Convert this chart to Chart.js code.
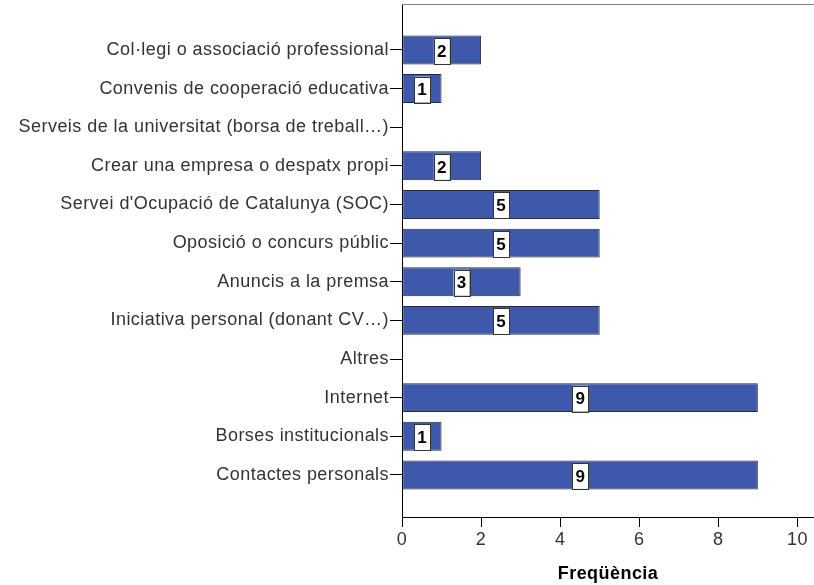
<!DOCTYPE html>
<html lang="ca">
<head>
    <meta charset="UTF-8">
    <title>Freqüència</title>
    <style>
        html, body {
            margin: 0;
            padding: 0;
            background-color: #ffffff;
        }
        .chart-box {
            width: 814px;
            height: 585px;
        }
    </style>
    <script src="https://cdn.jsdelivr.net/npm/chart.js"></script>
</head>
<body>

<div class="chart-box">
    <canvas id="freq-chart" width="814" height="585"></canvas>
</div>

<script>
// Categories, top to bottom
const categories = [
    'Col·legi o associació professional',
    'Convenis de cooperació educativa',
    'Serveis de la universitat (borsa de treball…)',
    'Crear una empresa o despatx propi',
    "Servei d'Ocupació de Catalunya (SOC)",
    'Oposició o concurs públic',
    'Anuncis a la premsa',
    'Iniciativa personal (donant CV…)',
    'Altres',
    'Internet',
    'Borses institucionals',
    'Contactes personals'
];
const frequencies = [2, 1, 0, 2, 5, 5, 3, 5, 0, 9, 1, 9];
const xTicks = [0, 2, 4, 6, 8, 10];

const points = categories.map((c, i) => ({ x: frequencies[i], y: i }));

// slightly wider letter spacing, like the original rendering
const spacing = {
    id: 'spacing',
    beforeDraw(chart) {
        chart.ctx.letterSpacing = '0.45px';
    }
};

// White boxes with the count, drawn over each bar
const valueBoxes = {
    id: 'valueBoxes',
    afterDatasetsDraw(chart) {
        const ctx = chart.ctx;
        const meta = chart.getDatasetMeta(0);
        ctx.save();
        ctx.letterSpacing = '0px';
        ctx.font = 'bold 17px "Liberation Sans", Arial, sans-serif';
        ctx.textAlign = 'center';
        ctx.textBaseline = 'middle';
        meta.data.forEach((bar, i) => {
            if (!frequencies[i]) return;
            const cx = (bar.x + bar.base) / 2;
            const cy = bar.y + 1;
            const w = 16, h = 26;
            ctx.fillStyle = '#ffffff';
            ctx.fillRect(cx - w / 2, cy - h / 2, w, h);
            ctx.strokeStyle = '#333333';
            ctx.lineWidth = 1;
            ctx.strokeRect(Math.round(cx - w / 2) + 0.5, Math.round(cy - h / 2) + 0.5, w, h);
            ctx.fillStyle = '#000000';
            ctx.fillText(String(frequencies[i]), cx, cy + 1);
        });
        // grey frame line at the top of the plot
        const a = chart.chartArea;
        ctx.strokeStyle = '#808080';
        ctx.beginPath();
        ctx.moveTo(a.left, a.top + 0.5);
        ctx.lineTo(a.right, a.top + 0.5);
        ctx.stroke();
        ctx.restore();
    }
};

Chart.defaults.font.family = '"Liberation Sans", Arial, sans-serif';
Chart.defaults.font.size = 18;
Chart.defaults.color = '#333333';

new Chart(document.getElementById('freq-chart'), {
    type: 'bar',
    data: {
        datasets: [{
            data: points,
            backgroundColor: '#3e58ac',
            borderColor: '#2a2a3a',
            borderWidth: 1,
            borderSkipped: false,
            categoryPercentage: 1,
            barPercentage: 0.75
        }]
    },
    options: {
        indexAxis: 'y',
        responsive: false,
        animation: false,
        layout: { padding: 0 },
        plugins: {
            legend: { display: false },
            tooltip: { enabled: false }
        },
        scales: {
            y: {
                type: 'linear',
                reverse: true,
                offset: false,
                min: -1.19,
                max: 12.09,
                afterBuildTicks: scale => {
                    scale.ticks = categories.map((c, i) => ({ value: i }));
                },
                afterFit: scale => {
                    scale.width = 402;
                    scale.paddingTop = 4;
                    scale.paddingBottom = 0;
                },
                ticks: {
                    callback: v => categories[v],
                    padding: 1,
                    color: '#333333'
                },
                grid: {
                    offset: false,
                    drawOnChartArea: false,
                    tickLength: 12,
                    color: '#000000'
                },
                border: { color: '#000000', width: 1 }
            },
            x: {
                type: 'linear',
                min: 0,
                max: 10.42,
                afterBuildTicks: scale => {
                    scale.ticks = xTicks.map(v => ({ value: v }));
                },
                afterFit: scale => {
                    scale.height = 68;
                    scale.paddingLeft = 0;
                    scale.paddingRight = 0;
                },
                ticks: {
                    padding: 2,
                    color: '#333333'
                },
                grid: {
                    drawOnChartArea: false,
                    tickLength: 10,
                    color: '#000000'
                },
                border: { color: '#000000', width: 1 },
                title: {
                    display: true,
                    text: 'Freqüència',
                    color: '#000000',
                    font: { weight: 'bold', size: 18 },
                    padding: { top: 5, bottom: 0 }
                }
            }
        }
    },
    plugins: [spacing, valueBoxes]
});
</script>

</body>
</html>
